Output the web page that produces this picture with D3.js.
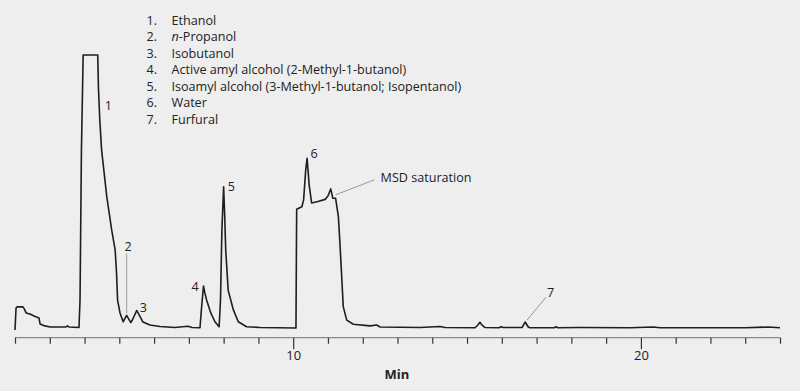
<!DOCTYPE html>
<html>
<head>
<meta charset="utf-8">
<script src="https://cdn.jsdelivr.net/npm/d3@7"></script>
<style>
  html, body { margin: 0; padding: 0; background: #eeeeee; }
  svg { display: block; }
  text { font-family: "Open Sans", "Noto Sans", sans-serif; fill: #222; }
</style>
</head>
<body>
<svg id="chart" width="800" height="391"></svg>
<script>
// ---- Data (retention time in min, relative signal) ----
const times = [
  2.00, 2.03, 2.06, 2.23, 2.27, 2.32, 2.43, 2.58, 2.69, 2.72, 2.83, 3.01, 3.47, 3.51, 3.55, 3.84,
  3.87, 3.91, 3.96, 4.38, 4.40, 4.44, 4.49, 4.64, 4.78, 4.88, 4.92, 4.95, 5.02, 5.11, 5.21, 5.33, 5.39,
  5.50, 5.57, 5.68, 5.88, 6.17, 6.60, 6.89, 6.98, 7.09, 7.32, 7.36, 7.42, 7.46, 7.51, 7.63, 7.75,
  7.87, 7.91, 7.95, 8.00, 8.03, 8.06, 8.13, 8.28, 8.42, 8.66, 9.05, 10.08, 10.10, 10.25, 10.30, 10.36,
  10.40, 10.46, 10.53, 10.71, 10.92, 11.00, 11.08, 11.14, 11.22, 11.30, 11.35, 11.40, 11.44, 11.54, 11.73, 12.21,
  12.40, 12.50, 13.65, 14.22, 14.37, 15.23, 15.31, 15.37, 15.43, 15.52, 15.92, 15.98, 16.04, 16.58, 16.67, 16.76,
  16.81, 17.50, 17.56, 17.61, 18.25, 19.69, 20.35, 20.55, 23.00, 23.66, 24.00
];
const signal = [
  0.0, 8.0, 8.4, 8.4, 7.6, 6.2, 5.8, 4.9, 4.4, 2.2, 1.6, 1.1, 1.1, 1.5, 1.1, 0.9,
  10.9, 65.0, 100, 100, 88.0, 76.0, 65.5, 48.4, 36.4, 29.1, 20.7, 10.9, 6.2, 3.0, 5.3, 2.7, 4.0,
  7.1, 5.5, 2.9, 1.8, 1.3, 0.9, 1.3, 1.35, 0.9, 0.8, 7.3, 16.0, 13.5, 10.9, 6.2, 3.0,
  1.2, 10.9, 36.4, 52.1, 41.8, 29.1, 14.5, 7.3, 3.0, 1.2, 0.9, 0.7, 43.9, 44.8, 47.3, 58.2,
  62.4, 52.7, 46.2, 46.7, 47.5, 48.7, 51.3, 47.9, 47.9, 41.2, 30.3, 18.2, 8.5, 3.6, 2.1, 1.5,
  1.8, 1.1, 0.9, 1.3, 0.9, 0.8, 1.8, 2.8, 1.8, 0.9, 0.8, 1.2, 0.9, 0.9, 2.9, 1.1,
  0.8, 0.8, 1.2, 0.8, 0.9, 0.8, 1.1, 0.8, 0.8, 1.1, 0.8
];

// peak labels: [label, time, signal]
const peakLabels = ["1", "2", "3", "4", "5", "6", "7"];
const peakTimes = [4.55, 5.21, 5.50, 7.42, 8.00, 10.40, 16.67];
const peakSignals = [81.1, 5.3, 7.1, 16.0, 52.1, 62.4, 2.9];

const legendNums = ["1.", "2.", "3.", "4.", "5.", "6.", "7."];
const legendNames = [
  "Ethanol",
  "n-Propanol",
  "Isobutanol",
  "Active amyl alcohol (2-Methyl-1-butanol)",
  "Isoamyl alcohol (3-Methyl-1-butanol; Isopentanol)",
  "Water",
  "Furfural"
];

const xDomain = [2, 24];
const majorTicks = [10, 20];
const minorTicks = d3.range(2, 25, 1).filter(d => !majorTicks.includes(d));
const saturationTime = 11.22, saturationSignal = 47.9;

// ---- Layout ----
const FS = 12.6;
const svg = d3.select("#chart");
const x = d3.scaleLinear().domain(xDomain).range([15, 780]);
const y = d3.scaleLinear().domain([0, 100]).range([330, 55]);
const axisY = 337.7;

// axis line
svg.append("line")
  .attr("x1", x(xDomain[0])).attr("x2", x(xDomain[1]))
  .attr("y1", axisY).attr("y2", axisY)
  .attr("stroke", "#8a8a8a").attr("stroke-width", 1.2);

// minor ticks
const minorAxis = d3.axisBottom(x).tickValues(minorTicks).tickSize(6).tickFormat("");
const gMinor = svg.append("g").attr("transform", `translate(0,${axisY})`).call(minorAxis);
gMinor.select(".domain").remove();
gMinor.selectAll(".tick line").attr("stroke", "#333").attr("stroke-width", 1.2);

// major ticks
const majorAxis = d3.axisBottom(x).tickValues(majorTicks).tickSize(11.5).tickPadding(2).tickFormat(d3.format("d"));
const gMajor = svg.append("g").attr("transform", `translate(0,${axisY})`).call(majorAxis);
gMajor.select(".domain").remove();
gMajor.selectAll(".tick line").attr("stroke", "#333").attr("stroke-width", 1.2);
gMajor.selectAll(".tick text")
  .attr("font-family", "'Open Sans', 'Noto Sans', sans-serif")
  .attr("font-size", 13).attr("fill", "#222");

// axis title
svg.append("text")
  .attr("x", 397).attr("y", 378.5)
  .attr("text-anchor", "middle")
  .attr("font-size", 13).attr("font-weight", "bold")
  .text("Min");

// trace
const pts = times.map((t, i) => [t, signal[i]]);
const line = d3.line().x(d => x(d[0])).y(d => y(d[1])).curve(d3.curveLinear);
svg.append("path")
  .datum(pts)
  .attr("d", line)
  .attr("fill", "none")
  .attr("stroke", "#1e1e1e")
  .attr("stroke-width", 1.6)
  .attr("stroke-linejoin", "round");

// peak labels
const labelOffsets = {
  "1": [1, 3], "2": [-2, -64], "3": [3, 2], "4": [-12, 5], "5": [4, 4], "6": [3.5, 0], "7": [22, -25]
};
peakLabels.forEach((lab, i) => {
  const px = x(peakTimes[i]), py = y(peakSignals[i]);
  const [dx, dy] = labelOffsets[lab];
  svg.append("text")
    .attr("x", px + dx).attr("y", py + dy)
    .attr("font-size", FS)
    .text(lab);
});

// leader for 2
svg.append("line")
  .attr("x1", x(peakTimes[1])).attr("x2", x(peakTimes[1]))
  .attr("y1", y(peakSignals[1]) - 2).attr("y2", y(peakSignals[1]) - 62)
  .attr("stroke", "#aaa").attr("stroke-width", 1.2);
// leader for 7
svg.append("line")
  .attr("x1", x(peakTimes[6]) + 2).attr("y1", y(peakSignals[6]) - 2)
  .attr("x2", x(peakTimes[6]) + 21).attr("y2", y(peakSignals[6]) - 25)
  .attr("stroke", "#999").attr("stroke-width", 1);
// MSD saturation
svg.append("line")
  .attr("x1", x(saturationTime)).attr("y1", y(saturationSignal) - 3.5)
  .attr("x2", x(saturationTime) + 39).attr("y2", y(saturationSignal) - 18.5)
  .attr("stroke", "#999").attr("stroke-width", 1);
svg.append("text")
  .attr("x", x(saturationTime) + 45).attr("y", y(saturationSignal) - 16)
  .attr("font-size", FS)
  .text("MSD saturation");

// legend
const legendX = 157, legendNameX = 171.5, legendY0 = 24.5, legendDy = 16.55;
legendNums.forEach((n, i) => {
  svg.append("text")
    .attr("x", legendX).attr("y", legendY0 + i * legendDy)
    .attr("text-anchor", "end").attr("font-size", FS)
    .text(n);
  const t = svg.append("text")
    .attr("x", legendNameX).attr("y", legendY0 + i * legendDy)
    .attr("font-size", FS);
  const name = legendNames[i];
  if (name.startsWith("n-")) {
    t.append("tspan").attr("font-style", "italic").text("n");
    t.append("tspan").text(name.slice(1));
  } else {
    t.text(name);
  }
});
</script>
</body>
</html>
